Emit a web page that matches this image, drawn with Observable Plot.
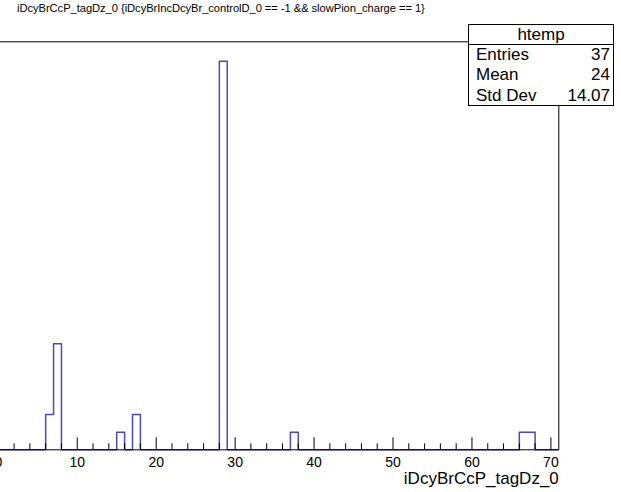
<!DOCTYPE html>
<html>
<head>
<meta charset="utf-8">
<script src="https://cdn.jsdelivr.net/npm/d3@7"></script>
<script src="https://cdn.jsdelivr.net/npm/@observablehq/plot@0.6"></script>
<style>
  html, body { margin: 0; padding: 0; background: #fff; overflow: hidden; }
  #wrap { position: relative; width: 621px; height: 492px; font-family: "Liberation Sans", Arial, sans-serif; }
  #title { position: absolute; left: 17px; top: 2px; font-size: 11.2px; letter-spacing: -0.06px; white-space: nowrap; color: #000; }
  #stats { position: absolute; left: 468px; top: 24px; width: 144px; height: 80px; border: 1px solid #000; background: #fff; font-size: 17px; color: #000; }
  #stats .hdr { text-align: center; height: 19px; line-height: 19px; border-bottom: 1px solid #000; }
  #stats .row { display: flex; justify-content: space-between; padding: 0 3px 0 7px; height: 20.3px; line-height: 20.3px; }
</style>
</head>
<body>
<div id="wrap">
  <div id="chart"></div>
  <div id="title"></div>
  <div id="stats"></div>
</div>
<script>
// ---- data ----
const histName = "htemp";
const titleText = "iDcyBrCcP_tagDz_0 {iDcyBrIncDcyBr_controlD_0 == -1 && slowPion_charge == 1}";
const xLabel = "iDcyBrCcP_tagDz_0";
const binLeft = [6, 7, 15, 17, 28, 37, 66, 67];
const binCount = [2, 6, 1, 2, 22, 1, 1, 1];
const xDomain = [0, 71];
const yDomain = [0, 23.1];
const majorTicks = [0, 10, 20, 30, 40, 50, 60, 70];
const minorTicks = [2, 4, 6, 8, 12, 14, 16, 18, 22, 24, 26, 28, 32, 34, 36, 38, 42, 44, 46, 48, 52, 54, 56, 58, 62, 64, 66, 68];
const statLabels = ["Entries", "Mean", "Std Dev"];
const statValues = ["37", "24", "14.07"];

// ---- build step outline from bins ----
const countAt = new Map(binLeft.map((b, i) => [b, binCount[i]]));
const steps = [];
for (let e = xDomain[0]; e < xDomain[1]; e++) steps.push({x: e, y: countAt.get(e) || 0});
steps.push({x: xDomain[1], y: 0});

const yRange = [449.3, 41.3];
const pxPerY = (yRange[0] - yRange[1]) / (yDomain[1] - yDomain[0]);
const majorLen = 12 / pxPerY, minorLen = 6 / pxPerY;

const chart = Plot.plot({
  width: 621,
  height: 492,
  margin: 0,
  x: {domain: xDomain, range: [-2.2, 558.3], axis: null},
  y: {domain: yDomain, range: yRange, axis: null},
  style: {fontFamily: "'Liberation Sans', Arial, sans-serif", background: "#fff"},
  marks: [
    Plot.line(steps, {x: "x", y: "y", curve: "step-after", stroke: "#4a4ab8", strokeWidth: 1.5}),
    // frame
    Plot.ruleY([yDomain[1]], {x1: xDomain[0], x2: xDomain[1], stroke: "#000", strokeWidth: 1}),
    Plot.ruleX([xDomain[1]], {y1: yDomain[0], y2: yDomain[1], stroke: "#000", strokeWidth: 1}),
    Plot.ruleY([0], {x1: xDomain[0], x2: xDomain[1], stroke: "#000", strokeWidth: 1}),
    // ticks
    Plot.ruleX(majorTicks, {x: d => d, y1: 0, y2: majorLen, stroke: "#000", strokeWidth: 1}),
    Plot.ruleX(minorTicks, {x: d => d, y1: 0, y2: minorLen, stroke: "#000", strokeWidth: 1}),
    // tick labels
    Plot.text(majorTicks, {x: d => d, y: 0, text: d => String(d), dy: 12.5, fontSize: 14, fill: "#000"}),
    // axis title
    Plot.text([xLabel], {x: xDomain[1], y: 0, text: d => d, textAnchor: "end", dy: 28.5, fontSize: 17, fill: "#000"})
  ]
});
document.getElementById("chart").append(chart);

document.getElementById("title").textContent = titleText;
const stats = document.getElementById("stats");
const hdr = document.createElement("div");
hdr.className = "hdr"; hdr.textContent = histName; stats.append(hdr);
statLabels.forEach((l, i) => {
  const r = document.createElement("div");
  r.className = "row";
  const a = document.createElement("span"); a.textContent = l;
  const b = document.createElement("span"); b.textContent = statValues[i];
  r.append(a, b); stats.append(r);
});
</script>
</body>
</html>
